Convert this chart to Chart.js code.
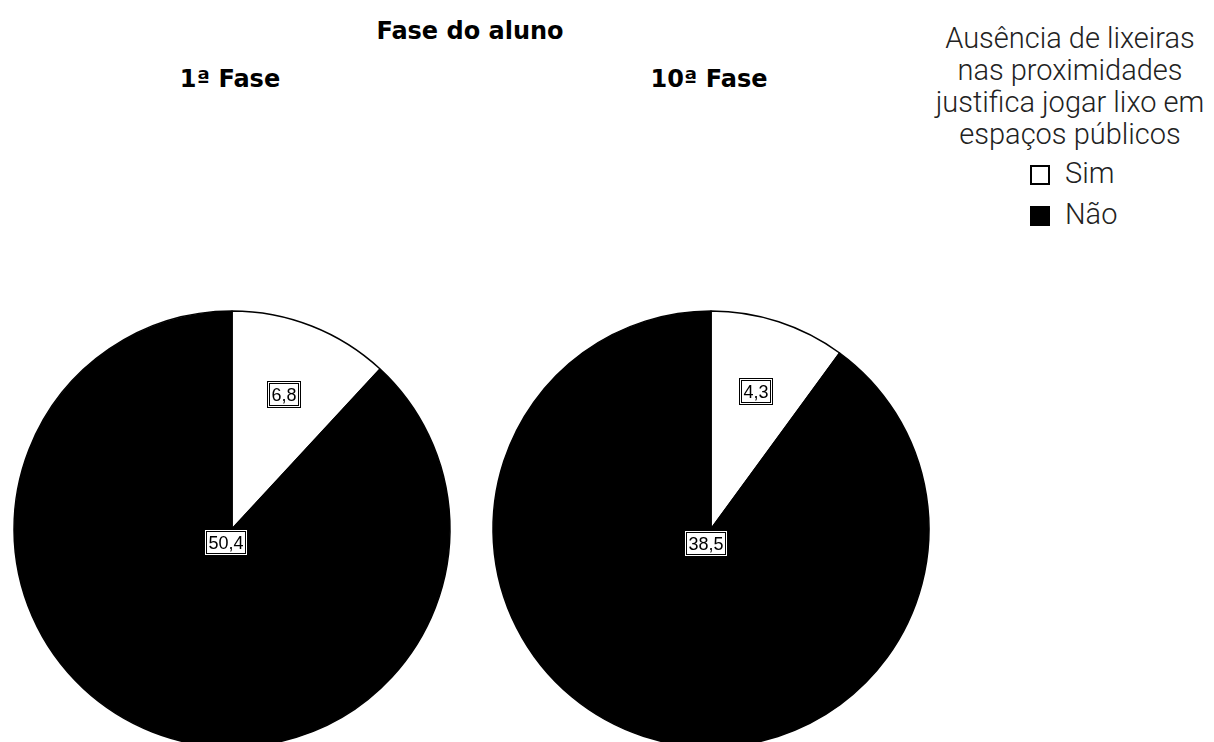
<!DOCTYPE html>
<html>
<head>
<meta charset="utf-8">
<script src="https://cdn.jsdelivr.net/npm/chart.js@4/dist/chart.umd.min.js"></script>
<style>
  html, body { margin: 0; padding: 0; background: #fff; }
  body { width: 1214px; height: 742px; position: relative; overflow: hidden; }
  .title {
    position: absolute; width: 400px; text-align: center;
    font: bold 24px "DejaVu Sans", sans-serif; line-height: 24px; color: #000;
    white-space: nowrap;
  }
  .pie { position: absolute; width: 460px; height: 460px; }
  .legend-title {
    position: absolute; left: 920px; top: 22px; width: 300px; text-align: center;
    font: 300 29px Roboto, "Liberation Sans", sans-serif; line-height: 32px; color: #222;
    white-space: nowrap;
  }
  .legend-item {
    position: absolute; left: 1030px; height: 32px;
    font: 300 29px Roboto, "Liberation Sans", sans-serif; line-height: 32px; color: #222;
  }
  .legend-item .swatch {
    position: absolute; left: 0; top: 8px; width: 16px; height: 16px;
    border: 2px solid #000;
  }
  .legend-item .label { position: absolute; left: 35px; top: 0; white-space: nowrap; }
</style>
</head>
<body>
<div class="title" style="left:270px; top:19px;">Fase do aluno</div>
<div class="title" id="title-0" style="left:30px; top:67px;"></div>
<div class="title" id="title-1" style="left:509px; top:67px;"></div>

<canvas class="pie" id="pie-0" width="460" height="460" style="left:2px; top:299px;"></canvas>
<canvas class="pie" id="pie-1" width="460" height="460" style="left:481px; top:299px;"></canvas>

<div class="legend-title" id="legend-title"></div>
<div id="legend"></div>

<script>
// categories and values per student phase
const phases = ["1ª Fase", "10ª Fase"];
const answers = ["Sim", "Não"];
const answerColors = ["#ffffff", "#000000"];
const phase1Values = [6.8, 50.4];
const phase10Values = [4.3, 38.5];
const legendTitleLines = [
  "Ausência de lixeiras",
  "nas proximidades",
  "justifica jogar lixo em",
  "espaços públicos",
];
// how far out (fraction of radius) each slice label sits
const labelRadius = [0.66, 0.07];

/*
 * draws the value of each slice inside a small double-bordered box.
 */
const sliceLabels = {
  id: "sliceLabels",
  afterDatasetsDraw(chart) {
    const ctx = chart.ctx;
    const meta = chart.getDatasetMeta(0);
    const values = chart.data.datasets[0].data;
    ctx.save();
    ctx.font = '18px "Liberation Sans", Arial, sans-serif';
    ctx.textAlign = "center";
    ctx.textBaseline = "middle";
    meta.data.forEach((arc, i) => {
      const { x, y, startAngle, endAngle, outerRadius } = arc.getProps(
        ["x", "y", "startAngle", "endAngle", "outerRadius"],
        true
      );
      const mid = (startAngle + endAngle) / 2;
      const r = outerRadius * labelRadius[i];
      const lx = Math.round(x + Math.cos(mid) * r);
      const ly = Math.round(y + Math.sin(mid) * r);
      const text = values[i].toFixed(1).replace(".", ",");
      const w = Math.ceil(ctx.measureText(text).width) + 8;
      const h = 27;
      const left = lx - Math.round(w / 2);
      const top = ly - Math.round(h / 2);
      ctx.fillStyle = "#fff";
      ctx.fillRect(left, top, w, h);
      ctx.strokeStyle = "#000";
      ctx.lineWidth = 1;
      ctx.strokeRect(left + 0.5, top + 0.5, w - 1, h - 1);
      ctx.strokeRect(left + 2.5, top + 2.5, w - 5, h - 5);
      ctx.fillStyle = "#000";
      ctx.fillText(text, lx, ly + 1);
    });
    ctx.restore();
  },
};

const createPie = (canvasId, values) =>
  new Chart(document.getElementById(canvasId), {
    type: "pie",
    data: {
      labels: answers,
      datasets: [
        {
          data: values,
          backgroundColor: answerColors,
          borderColor: "#000",
          borderWidth: 1.5,
          radius: 218,
        },
      ],
    },
    options: {
      responsive: false,
      animation: false,
      layout: { padding: 0 },
      plugins: {
        legend: { display: false },
        tooltip: { enabled: false },
      },
    },
    plugins: [sliceLabels],
  });

createPie("pie-0", phase1Values);
createPie("pie-1", phase10Values);

phases.forEach((name, i) => {
  document.getElementById(`title-${i}`).textContent = name;
});

document.getElementById("legend-title").innerHTML = legendTitleLines.join("<br>");

const legend = document.getElementById("legend");
answers.forEach((answer, i) => {
  const item = document.createElement("div");
  item.className = "legend-item";
  item.style.top = `${157 + i * 41}px`;
  const swatch = document.createElement("span");
  swatch.className = "swatch";
  swatch.style.background = answerColors[i];
  const label = document.createElement("span");
  label.className = "label";
  label.textContent = answer;
  item.append(swatch, label);
  legend.append(item);
});
</script>
</body>
</html>
